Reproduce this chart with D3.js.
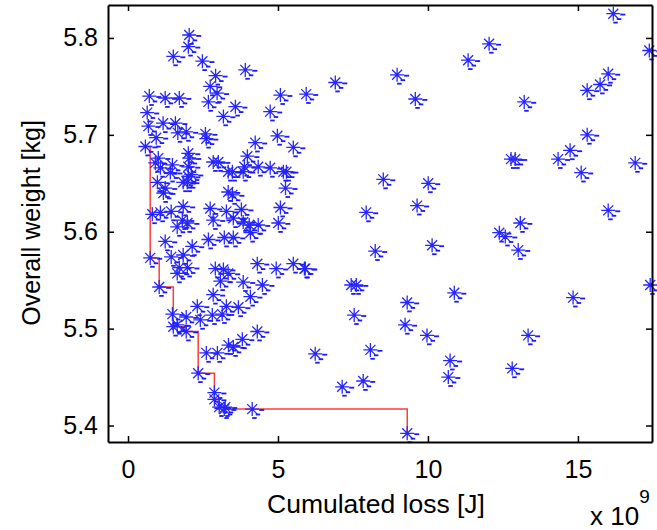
<!DOCTYPE html>
<html>
<head>
<meta charset="utf-8">
<script src="https://cdn.jsdelivr.net/npm/d3@7"></script>
<style>
  body { margin: 0; background: #fff; }
  svg { display: block; font-family: "Liberation Sans", Arial, sans-serif; }
</style>
</head>
<body>
<svg id="chart" width="657" height="530"></svg>
<script>
// Cumulated loss (x 1e9 J) for every design
const lossX = [
  16.18, 17.38, 12.04, 11.34, 8.97, 6.91, 5.94, 9.58, 13.21, 16.01, 15.74, 15.31,
  15.31, 14.74, 14.34, 15.11, 16.91, 12.77, 12.91, 8.51, 10.01, 7.94, 9.64, 13.08,
  12.38, 12.58, 13.01, 16.01, 8.24, 10.14, 5.88, 7.44, 7.61, 7.54, 10.88, 9.31,
  9.24, 9.97, 14.84, 17.41, 13.34, 6.24, 8.08, 10.74, 10.68, 12.81, 7.84, 7.14,
  2.61, 2.98, 3.35, 3.51, 3.81, 4.14, 3.24, 2.88,
  0.58, 0.74, 1.04, 1.51, 1.94, 2.34, 2.88, 3.04, 3.21, 9.31,
  2.04, 2.01, 1.51, 2.48, 3.91, 2.92, 2.74, 2.97, 2.68, 3.58, 3.18, 5.08,
  4.74, 0.71, 1.24, 1.71, 0.64, 0.68, 1.17, 1.58, 1.66, 1.94, 0.94, 2.58,
  2.61, 4.24, 4.98, 5.51, 1.01, 2.01, 2.04, 0.91, 1.08, 1.48, 1.41, 2.01,
  2.11, 2.84, 3.01, 3.48, 3.98, 3.88, 4.34, 4.74, 5.28,
  0.98, 1.24, 1.18, 1.84, 2.01, 1.98, 3.34, 3.48, 3.34, 3.84, 5.25, 5.18,
  0.81, 1.08, 1.44, 1.84, 1.81, 1.64, 1.98, 2.74, 2.84, 3.28, 3.51, 3.78,
  3.84, 4.04, 4.34, 5.08, 5.01, 4.08, 1.24, 2.68, 3.21, 3.51, 2.14, 1.44,
  1.84, 1.71, 1.98, 1.64, 2.91, 3.18, 3.34, 3.08, 3.84, 4.31, 4.94, 5.51,
  5.91, 4.48, 2.84, 4.08, 2.31, 3.28, 3.68, 2.81, 3.14, 1.48, 1.94, 2.41,
  1.64, 4.31
];

// Overall weight (kg) for every design, same order
const weightY = [
  5.825, 5.787, 5.794, 5.777, 5.762, 5.754, 5.742, 5.737, 5.734, 5.763, 5.752, 5.746,
  5.700, 5.684, 5.675, 5.661, 5.671, 5.675, 5.675, 5.654, 5.650, 5.620, 5.627, 5.609,
  5.599, 5.595, 5.581, 5.622, 5.580, 5.586, 5.562, 5.545, 5.545, 5.514, 5.537, 5.527,
  5.504, 5.493, 5.532, 5.545, 5.493, 5.474, 5.478, 5.467, 5.450, 5.459, 5.446, 5.440,
  5.475, 5.475, 5.483, 5.481, 5.489, 5.417, 5.419, 5.434,
  5.688, 5.573, 5.543, 5.502, 5.497, 5.454, 5.427, 5.419, 5.417, 5.392,
  5.803, 5.791, 5.781, 5.776, 5.767, 5.761, 5.750, 5.743, 5.734, 5.729, 5.719, 5.741,
  5.724, 5.740, 5.738, 5.738, 5.723, 5.709, 5.712, 5.712, 5.702, 5.703, 5.697, 5.701,
  5.696, 5.692, 5.699, 5.687, 5.676, 5.681, 5.676, 5.671, 5.666, 5.669, 5.661, 5.667,
  5.659, 5.672, 5.672, 5.662, 5.678, 5.667, 5.667, 5.666, 5.662,
  5.651, 5.645, 5.640, 5.651, 5.657, 5.651, 5.641, 5.638, 5.662, 5.662, 5.645, 5.662,
  5.618, 5.620, 5.621, 5.626, 5.612, 5.605, 5.609, 5.624, 5.612, 5.621, 5.614, 5.623,
  5.610, 5.607, 5.607, 5.625, 5.609, 5.599, 5.590, 5.592, 5.594, 5.594, 5.585, 5.574,
  5.576, 5.563, 5.563, 5.557, 5.562, 5.561, 5.557, 5.549, 5.548, 5.567, 5.562, 5.567,
  5.562, 5.545, 5.535, 5.533, 5.523, 5.523, 5.522, 5.514, 5.515, 5.515, 5.512, 5.509,
  5.504, 5.497
];

// Pareto front (red staircase)
const frontX = [0.58, 0.74, 1.04, 1.51, 1.94, 2.34, 2.88, 3.04, 3.21, 9.31];
const frontY = [5.688, 5.573, 5.543, 5.502, 5.497, 5.454, 5.427, 5.419, 5.417, 5.392];

const xTicks = [0, 5, 10, 15];
const yTicks = [5.4, 5.5, 5.6, 5.7, 5.8];

const margin = { left: 108, top: 5, right: 652, bottom: 442 };
const svg = d3.select('#chart');

const x = d3.scaleLinear().domain([-0.667, 17.47]).range([margin.left, margin.right]);
const y = d3.scaleLinear().domain([5.383, 5.834]).range([margin.bottom, margin.top]);

// Pareto staircase
const front = frontX.map((v, i) => [v, frontY[i]]);
svg.append('path')
    .datum(front)
    .attr('fill', 'none')
    .attr('stroke', '#ff3c3c')
    .attr('stroke-width', 1.5)
    .attr('d', d3.line().x(d => x(d[0])).y(d => y(d[1])).curve(d3.curveStepAfter));

// Asterisk markers
const points = lossX.map((v, i) => [v, weightY[i]]);
const r = 7, rd = 5;
const marks = svg.append('g')
    .selectAll('g')
    .data(points)
    .join('g')
    .attr('transform', d => `translate(${x(d[0]).toFixed(1)},${y(d[1]).toFixed(1)})`)
    .attr('stroke', '#2626ff')
    .attr('stroke-width', 1.3);

marks.append('path')
    .attr('fill', 'none')
    .attr('d', `M${-r},0H${r}M0,${-r}V${r}M${-rd},${-rd}L${rd},${rd}M${-rd},${rd}L${rd},${-rd}`);

// small dash artifacts that trail each marker
const dashes = [[7, 0, 5], [3.5, 4.5, 4.5], [0, 8, 4.5]];
dashes.forEach(([dx, dy, w]) => {
    marks.append('rect')
        .attr('x', dx)
        .attr('y', dy)
        .attr('width', w)
        .attr('height', 1.8)
        .attr('stroke', 'none')
        .attr('fill', '#1a1aff');
});

// Axes (MATLAB style box with inward ticks)
function styleAxis(g) {
    g.select('.domain').attr('stroke', '#000').attr('stroke-width', 2);
    g.selectAll('.tick line').attr('stroke', '#000').attr('stroke-width', 1.5);
    g.selectAll('.tick text').attr('fill', '#000').attr('font-size', 25)
        .attr('font-family', '"Liberation Sans", Arial, sans-serif');
}

svg.append('g')
    .attr('transform', `translate(0,${margin.bottom})`)
    .call(d3.axisBottom(x).tickValues(xTicks).tickSize(-6).tickSizeOuter(0).tickPadding(18).tickFormat(d3.format('d')))
    .call(styleAxis);

svg.append('g')
    .attr('transform', `translate(0,${margin.top})`)
    .call(d3.axisTop(x).tickValues(xTicks).tickSize(-6).tickSizeOuter(0).tickFormat(''))
    .call(styleAxis);

svg.append('g')
    .attr('transform', `translate(${margin.left},0)`)
    .call(d3.axisLeft(y).tickValues(yTicks).tickSize(-6).tickSizeOuter(0).tickPadding(10).tickFormat(d3.format('.1f')))
    .call(styleAxis);

svg.append('g')
    .attr('transform', `translate(${margin.right},0)`)
    .call(d3.axisRight(y).tickValues(yTicks).tickSize(-6).tickSizeOuter(0).tickFormat(''))
    .call(styleAxis);

svg.selectAll('g').attr('font-size', null);

// Axis labels
svg.append('text')
    .attr('x', 376)
    .attr('y', 513)
    .attr('text-anchor', 'middle')
    .attr('font-size', 26.5)
    .text('Cumulated loss [J]');

svg.append('text')
    .attr('transform', 'translate(40,223) rotate(-90)')
    .attr('text-anchor', 'middle')
    .attr('font-size', 25)
    .text('Overall weight [kg]');

// Exponent label
const expo = svg.append('text')
    .attr('x', 590)
    .attr('y', 525)
    .attr('font-size', 26)
    .text('x 10');
expo.append('tspan')
    .attr('dy', -22)
    .attr('font-size', 19)
    .text('9');
</script>
</body>
</html>
